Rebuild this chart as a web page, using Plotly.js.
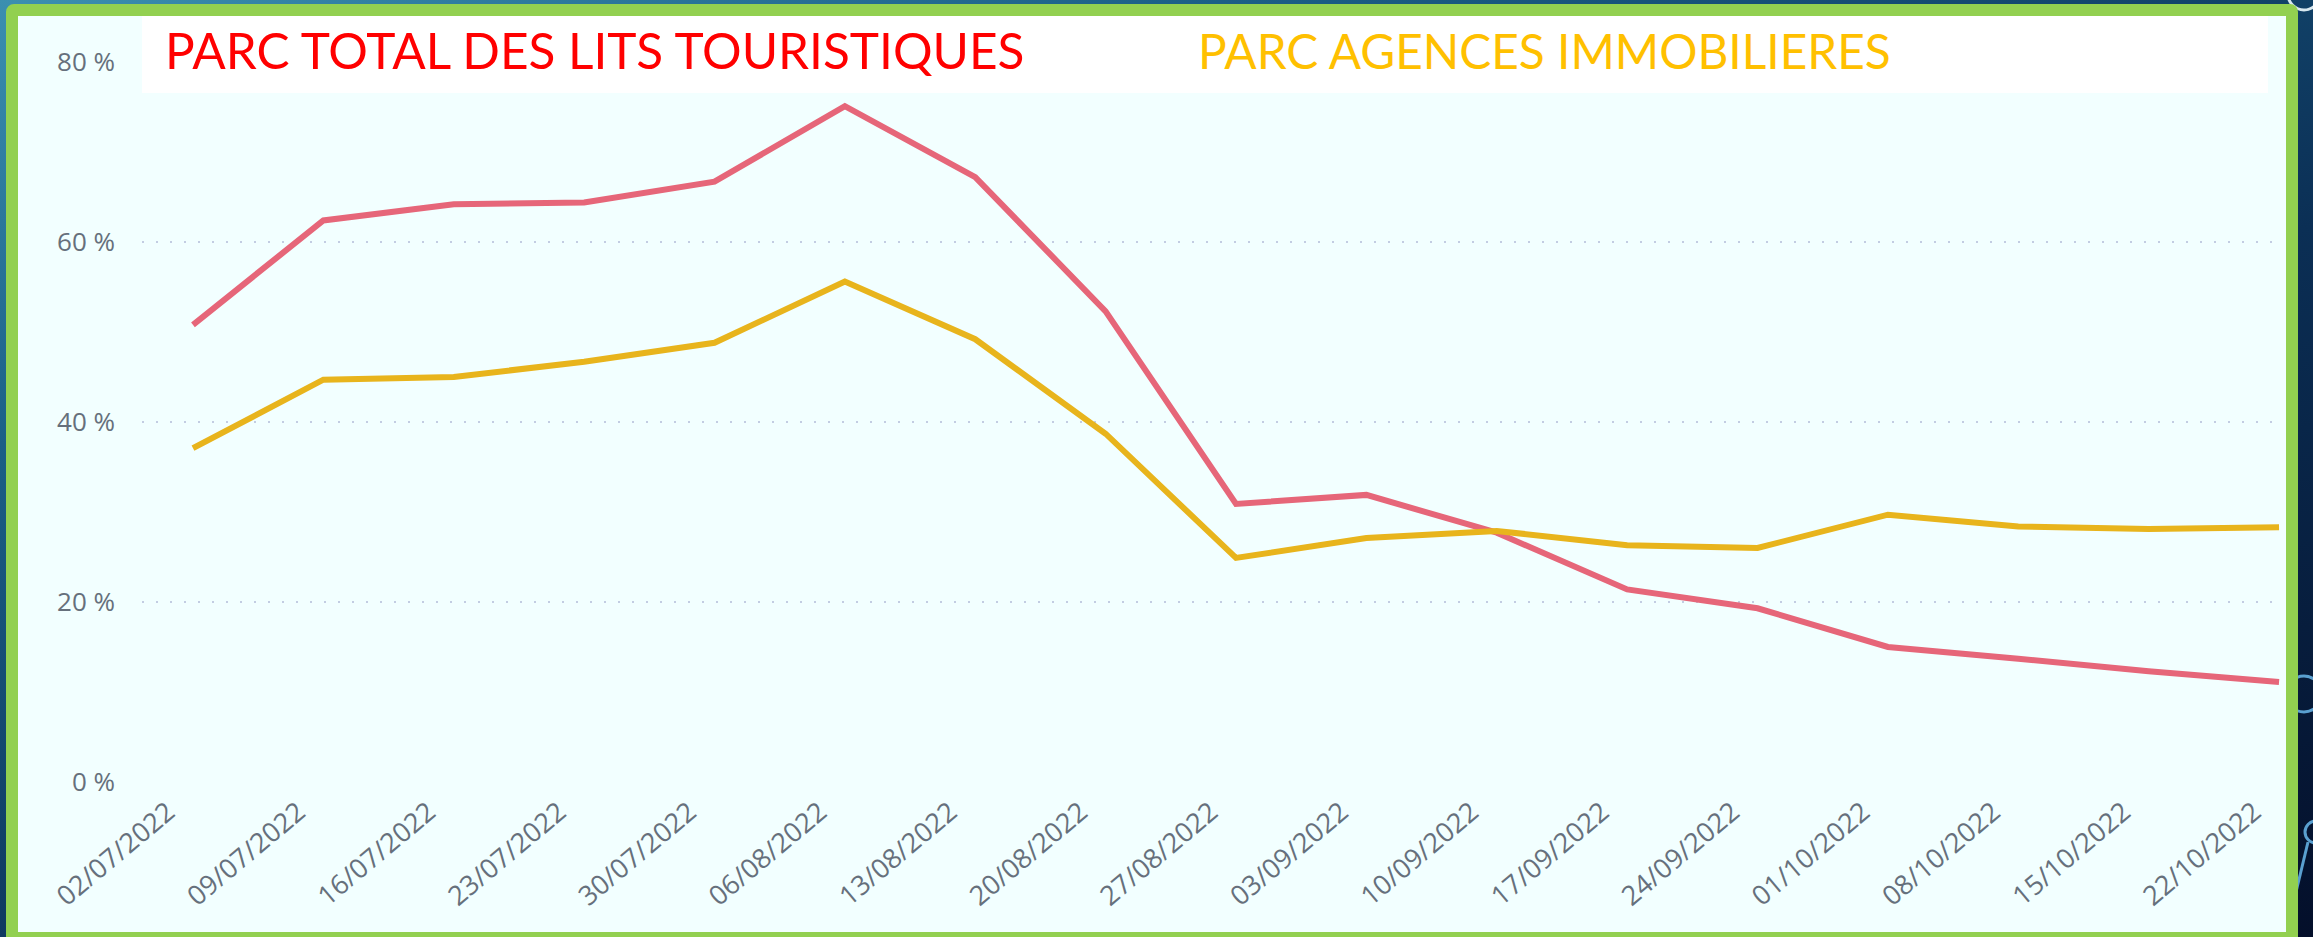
<!DOCTYPE html>
<html>
<head>
<meta charset="utf-8">
<script src="https://cdn.plot.ly/plotly-3.0.1.min.js"></script>
<style>
  html, body { margin: 0; padding: 0; width: 2313px; height: 937px; overflow: hidden; }
  body { background: linear-gradient(160deg, #3b8fb0 0%, #1b5f86 25%, #0b2f55 60%, #040f2a 100%); position: relative; }
  #frame { position: absolute; left: 6px; top: 4px; width: 2268px; height: 916px; border: 12px solid #92D050; border-radius: 8px; background: #F2FFFF; }
  #chart { position: absolute; left: 0; top: 0; width: 2313px; height: 937px; }
  #deco { position: absolute; left: 0; top: 0; }
</style>
</head>
<body>
<svg id="deco" width="2313" height="937">
  <circle cx="2304" cy="694" r="18" fill="none" stroke="#5aa0d0" stroke-width="3"/>
  <circle cx="2316" cy="832" r="11" fill="none" stroke="#5aa0d0" stroke-width="3"/>
  <line x1="2308" y1="842" x2="2296" y2="892" stroke="#5aa0d0" stroke-width="3"/>
  <circle cx="2304" cy="-6" r="16" fill="none" stroke="#d8e8f0" stroke-width="3"/>
</svg>
<div id="frame"></div>
<div id="chart"></div>
<script>
const dates = ['02/07/2022','09/07/2022','16/07/2022','23/07/2022','30/07/2022','06/08/2022','13/08/2022','20/08/2022','27/08/2022','03/09/2022','10/09/2022','17/09/2022','24/09/2022','01/10/2022','08/10/2022','15/10/2022','22/10/2022'];
const parcTotal = [50.8, 62.4, 64.2, 64.4, 66.7, 75.1, 67.2, 52.3, 30.9, 31.9, 27.7, 21.4, 19.3, 15.0, 13.7, 12.3, 11.1];
const parcAgences = [37.1, 44.7, 45.0, 46.7, 48.8, 55.6, 49.2, 38.7, 24.9, 27.1, 27.9, 26.3, 26.0, 29.7, 28.4, 28.1, 28.3];
const yTicks = [0, 20, 40, 60, 80];
const titleTotal = 'PARC TOTAL DES LITS TOURISTIQUES';
const titleAgences = 'PARC AGENCES IMMOBILIERES';

const W = 2313, H = 937;
const L = 142, R = 32, T = 62, B = 155;
const pw = W - L - R, ph = H - T - B;
const px = v => (v - L) / pw;
const py = v => (H - B - v) / ph;

const traces = [
  { x: dates, y: parcTotal, type: 'scatter', mode: 'lines', name: titleTotal,
    line: { color: '#E66679', width: 6 }, hoverinfo: 'x+y' },
  { x: dates, y: parcAgences, type: 'scatter', mode: 'lines', name: titleAgences,
    line: { color: '#E8B41C', width: 6 }, hoverinfo: 'x+y' }
];

const axisFont = { family: 'Open Sans, Noto Sans, sans-serif', size: 26, color: '#66707c' };

const layout = {
  width: W, height: H,
  margin: { l: L, r: R, t: T, b: B, pad: 0 },
  paper_bgcolor: 'rgba(0,0,0,0)',
  plot_bgcolor: 'rgba(0,0,0,0)',
  showlegend: false,
  xaxis: {
    type: 'category',
    range: [-0.391, 16.015],
    showgrid: false, zeroline: false, showline: false,
    ticks: '', tickangle: -40,
    tickfont: { family: 'Open Sans, Noto Sans, sans-serif', size: 27, color: '#66707c' },
    ticklabelstandoff: 8,
    ticklabelshift: -25,
    fixedrange: true
  },
  yaxis: {
    range: [0, 80],
    tickvals: yTicks,
    ticktext: yTicks.map(v => v + ' %'),
    showgrid: true, gridcolor: '#c3cde2', gridwidth: 2, griddash: '2px,12px',
    zeroline: false, showline: false, ticks: '',
    tickfont: axisFont,
    ticklabelstandoff: 26,
    fixedrange: true
  },
  shapes: [
    { type: 'rect', xref: 'paper', yref: 'paper', layer: 'above',
      x0: px(142), x1: px(2268), y0: py(93), y1: py(16),
      fillcolor: '#FFFFFF', line: { width: 0 } }
  ],
  annotations: [
    { xref: 'paper', yref: 'paper', x: px(163), y: py(50), xanchor: 'left', yanchor: 'middle',
      text: titleTotal, showarrow: false,
      font: { family: 'Lato, sans-serif', size: 49.5, color: '#FF0000' } },
    { xref: 'paper', yref: 'paper', x: px(1196), y: py(50), xanchor: 'left', yanchor: 'middle',
      text: titleAgences, showarrow: false,
      font: { family: 'Lato, sans-serif', size: 47.8, color: '#FFC000' } }
  ]
};

Plotly.newPlot('chart', traces, layout, { displayModeBar: false, staticPlot: true });
</script>
</body>
</html>
